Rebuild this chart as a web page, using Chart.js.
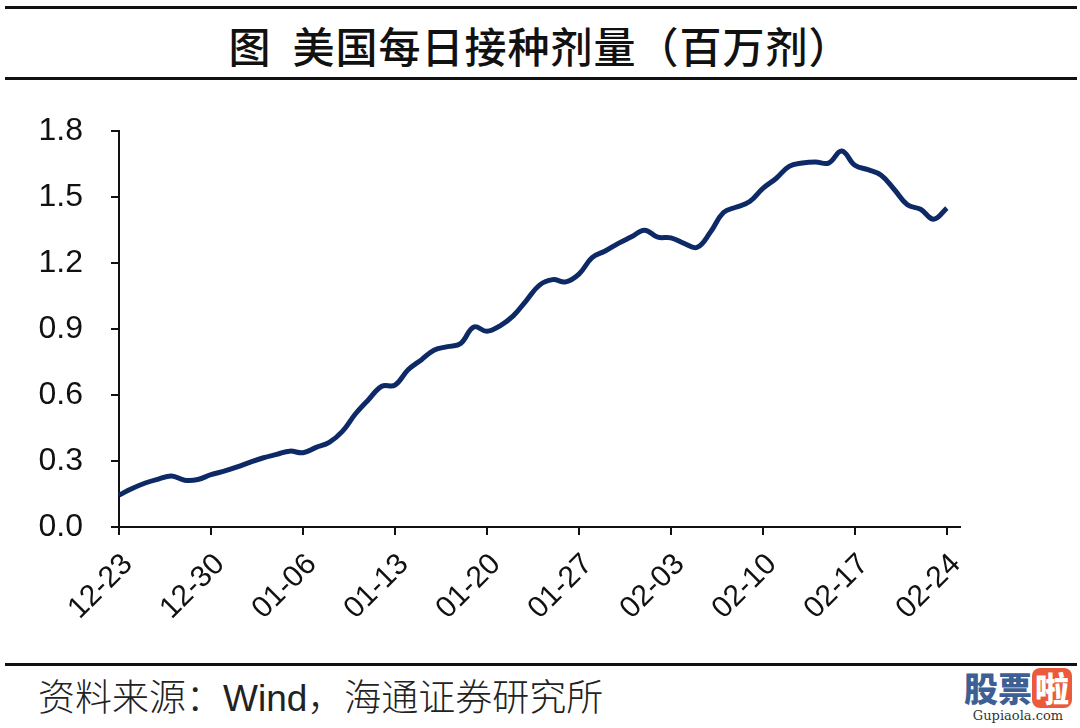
<!DOCTYPE html>
<html>
<head>
<meta charset="utf-8">
<script src="https://cdn.jsdelivr.net/npm/chart.js@4/dist/chart.umd.min.js"></script>
<style>
  html, body { margin: 0; padding: 0; background: #fff; }
  #page { position: relative; width: 1080px; height: 728px; overflow: hidden; background: #fff; }
  .rule { position: absolute; left: 5px; width: 1072px; height: 3px; background: #111; }
  #title { position: absolute; left: 0; width: 1080px; top: 14px; text-align: center;
           font-family: "Noto Sans CJK SC", sans-serif; font-size: 42px; font-weight: 500; color: #111; letter-spacing: 1px; }
  #chartBox { position: absolute; left: 0; top: 84px; width: 1080px; height: 566px; }
  #source { position: absolute; left: 38px; top: 668px; font-family: "Noto Sans CJK SC", sans-serif; font-size: 37px; font-weight: 300; color: #222; white-space: nowrap; }
  #source .en { font-family: "Liberation Sans", Arial, sans-serif; font-weight: 400; }
  #mark { position: absolute; left: 958px; top: 668px; width: 120px; text-align: center; }
  #mark .cn { font-family: "Noto Sans CJK SC", sans-serif; font-size: 34px; font-weight: 900; color: #3d5f94; line-height: 40px; }
  #mark .la { display: inline-block; background: #ec5a3c; color: #fff; border-radius: 8px; width: 40px; }
  #mark .url { font-family: "DejaVu Serif", serif; font-size: 13px; color: #333; line-height: 16px; }
</style>
</head>
<body>
<div id="page">
  <div class="rule" style="top:6px"></div>
  <div id="title">图&nbsp; 美国每日接种剂量（百万剂）</div>
  <div class="rule" style="top:77px"></div>
  <div id="chartBox"><canvas id="vaxChart"></canvas></div>
  <div class="rule" style="top:663px"></div>
  <div id="source">资料来源：<span class="en">Wind</span>，海通证券研究所</div>
  <div id="mark"><div class="cn">股票<span class="la">啦</span></div><div class="url">Gupiaola.com</div></div>
</div>
<script>
// daily dates (last one only extends the axis)
const dates = [
  '12-23','12-24','12-25','12-26','12-27','12-28','12-29','12-30','12-31',
  '01-01','01-02','01-03','01-04','01-05','01-06','01-07','01-08','01-09','01-10',
  '01-11','01-12','01-13','01-14','01-15','01-16','01-17','01-18','01-19','01-20',
  '01-21','01-22','01-23','01-24','01-25','01-26','01-27','01-28','01-29','01-30','01-31',
  '02-01','02-02','02-03','02-04','02-05','02-06','02-07','02-08','02-09','02-10',
  '02-11','02-12','02-13','02-14','02-15','02-16','02-17','02-18','02-19','02-20',
  '02-21','02-22','02-23','02-24','02-25'
];

// daily doses, millions
const doses = [
  0.145, 0.175, 0.200, 0.218, 0.232, 0.213, 0.216, 0.238, 0.254, 0.273,
  0.295, 0.315, 0.330, 0.345, 0.338, 0.362, 0.385, 0.435, 0.515, 0.580,
  0.640, 0.645, 0.715, 0.760, 0.805, 0.820, 0.835, 0.910, 0.890, 0.915,
  0.960, 1.030, 1.100, 1.125, 1.115, 1.150, 1.225, 1.255, 1.290, 1.320,
  1.350, 1.318, 1.315, 1.290, 1.272, 1.340, 1.430, 1.455, 1.480, 1.540,
  1.585, 1.640, 1.655, 1.660, 1.655, 1.710, 1.645, 1.625, 1.600, 1.535,
  1.465, 1.445, 1.400, 1.450
];

const yTicks = [0, 0.3, 0.6, 0.9, 1.2, 1.5, 1.8];
const labelEvery = 7;

const ctx = document.getElementById('vaxChart');
new Chart(ctx, {
  type: 'line',
  data: {
    labels: dates,
    datasets: [{
      label: '美国每日接种剂量',
      data: doses,
      borderColor: '#0e2a66',
      borderWidth: 5,
      pointRadius: 0,
      tension: 0.4,
      fill: false
    }]
  },
  options: {
    responsive: true,
    maintainAspectRatio: false,
    animation: false,
    layout: { padding: { top: 0, right: 120, left: 0, bottom: 0 } },
    plugins: { legend: { display: false }, tooltip: { enabled: false } },
    scales: {
      x: {
        offset: false,
        border: { display: true, color: '#111', width: 2 },
        grid: { drawOnChartArea: false, drawTicks: true, tickLength: 8, color: '#111', lineWidth: 2 },
        ticks: {
          autoSkip: false,
          maxRotation: 45,
          minRotation: 45,
          padding: 12,
          labelOffset: 9,
          color: '#111',
          font: { family: 'Liberation Sans, Arial, sans-serif', size: 30 },
          callback: (val, i) => (i % labelEvery === 0 ? dates[i] : null)
        },
        afterFit: (scale) => { scale.height = 123; }
      },
      y: {
        min: 0,
        max: 1.8,
        border: { display: true, color: '#111', width: 2 },
        grid: { drawOnChartArea: false, drawTicks: true, tickLength: 8, color: '#111', lineWidth: 2 },
        afterBuildTicks: (scale) => { scale.ticks = yTicks.map(v => ({ value: v })); },
        ticks: {
          padding: 28,
          color: '#111',
          font: { family: 'Liberation Sans, Arial, sans-serif', size: 32 },
          callback: (v) => Number(v).toFixed(1)
        },
        afterFit: (scale) => { scale.width = 119; }
      }
    }
  }
});
</script>
</body>
</html>
